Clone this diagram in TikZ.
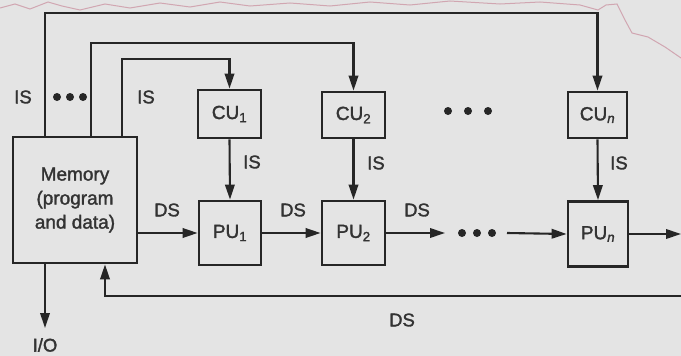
\documentclass[tikz,border=0pt]{standalone}
\usepackage{fontspec}
\setmainfont{Liberation Sans}[FakeBold=1.6]
\usetikzlibrary{arrows.meta}
\definecolor{paper}{HTML}{E4E4E4}
\definecolor{ink}{HTML}{262626}
\definecolor{txt}{HTML}{333333}
\definecolor{edge}{HTML}{C98C9C}
\begin{document}
\begin{tikzpicture}[x=1pt,y=-1pt,
  unit/.style={draw=ink,line width=2.8pt,inner sep=0pt,align=center,text=txt,
    font=\fontsize{19}{24}\selectfont},
  lbl/.style={text=txt,inner sep=0pt,font=\fontsize{18.5}{22}\selectfont},
  bus/.style={draw=ink,line width=2.1pt},
  arr/.style={bus,-{Triangle[length=15pt,width=9.5pt]}},
  dot/.style={circle,fill=ink,inner sep=0pt,minimum size=8pt}]
  % page
  \fill[paper] (0,0) rectangle (681,356);
  \useasboundingbox (0,0) rectangle (681,356);
  % torn paper edge along the top
  \draw[edge,line width=1pt,opacity=.7] (0,8) -- (15,4) -- (30,9) -- (48,2) -- (62,6)
    -- (80,10) -- (105,4) -- (130,8) -- (160,3) -- (190,7) -- (220,2) -- (250,6)
    -- (290,3) -- (330,6) -- (370,2) -- (410,5) -- (450,1) -- (500,4) -- (540,2)
    -- (580,5) -- (598,10) -- (606,5) -- (617,4) -- (625,20) -- (632,33)
    -- (648,37) -- (665,47) -- (681,58);

  % units
  \node[unit,minimum width=124pt,minimum height=126pt] (mem) at (75,200)
    {Memory\\(program\\and data)};
  \node[unit,minimum width=63pt,minimum height=48pt] (cu1) at (229.5,114) {CU\textsubscript{1}};
  \node[unit,minimum width=63pt,minimum height=46pt] (cu2) at (353.5,115) {CU\textsubscript{2}};
  \node[unit,minimum width=59pt,minimum height=46pt] (cun) at (597.5,115) {CU\textsubscript{\itshape n}};
  \node[unit,minimum width=62pt,minimum height=64pt] (pu1) at (230,233) {PU\textsubscript{1}};
  \node[unit,minimum width=63pt,minimum height=64pt] (pu2) at (353.5,233) {PU\textsubscript{2}};
  \node[unit,minimum width=60pt,minimum height=65pt] (pun) at (598,234) {PU\textsubscript{\itshape n}};

  % instruction streams from memory to the control units
  \coordinate (t1) at (45,13);
  \coordinate (t2) at (91,43);
  \coordinate (t3) at (122,59);
  \draw[arr] (mem.north -| t1) -- (t1) -| (cun.north);
  \draw[arr] (mem.north -| t2) -- (t2) -| (cu2.north);
  \draw[arr] (mem.north -| t3) -- (t3) -| (cu1.north);
  \node[lbl] (is0) at (23,97) {IS};
  \node[dot] (d1) at (57,97) {};
  \node[dot] (d2) at (70,97) {};
  \node[dot] (d3) at (83,97) {};
  \node[lbl] (is1) at (146,97) {IS};

  % control units drive the processing units
  \draw[arr] (cu1.south) -- (pu1.north);
  \draw[arr] (cu2.south) -- (pu2.north);
  \draw[arr] (cun.south) -- (pun.north);
  \node[lbl] (is2) at (252,162) {IS};
  \node[lbl] (is3) at (376,163) {IS};
  \node[lbl] (is4) at (619,163) {IS};
  \node[dot] (c1) at (448,111) {};
  \node[dot] (c2) at (468,111) {};
  \node[dot] (c3) at (488,111) {};

  % data stream through the processing units
  \coordinate (p2end) at (445,233);
  \coordinate (pnbeg) at (507,233);
  \coordinate (out) at (681,234);
  \draw[arr] (pu1.west -| mem.east) -- (pu1.west);
  \draw[arr] (pu1.east) -- (pu2.west);
  \draw[arr] (pu2.east) -- (p2end);
  \node[dot] (e1) at (462,233) {};
  \node[dot] (e2) at (477,233) {};
  \node[dot] (e3) at (492,233) {};
  \draw[arr] (pnbeg) -- (pun.west);
  \draw[arr] (pun.east) -- (out);
  \node[lbl] (ds1) at (167,210) {DS};
  \node[lbl] (ds2) at (293,210) {DS};
  \node[lbl] (ds3) at (417,210) {DS};

  % data returned to memory
  \coordinate (fb0) at (681,296);
  \coordinate (fb1) at (105,296);
  \draw[arr] (fb0) -- (fb1) -- (fb1 |- mem.south);
  \node[lbl] (ds4) at (402,320) {DS};

  % input/output
  \node[lbl] (io) at (45,345) {I/O};
  \draw[arr] (mem.south -| t1) -- (45,328);
\end{tikzpicture}
\end{document}
